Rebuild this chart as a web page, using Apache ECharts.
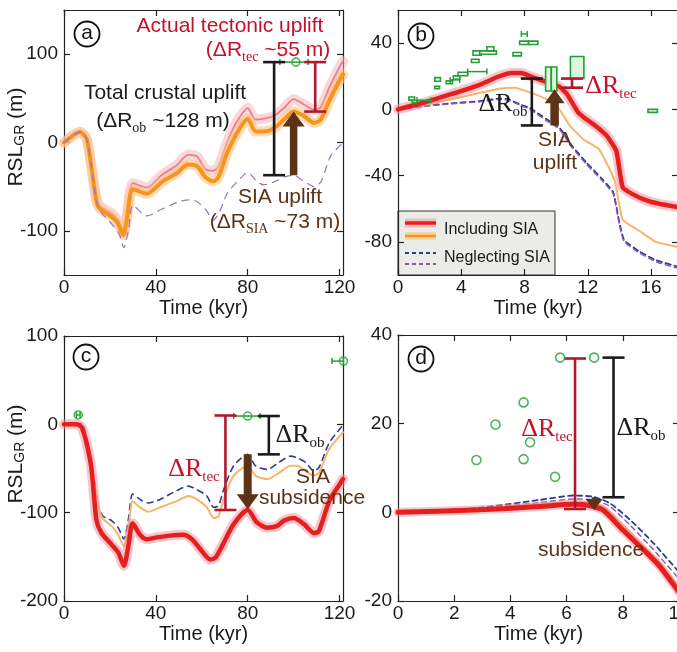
<!DOCTYPE html>
<html>
<head>
<meta charset="utf-8">
<script src="https://cdn.jsdelivr.net/npm/echarts@6/dist/echarts.min.js"></script>
<style>
html, body { margin: 0; padding: 0; background: #fff; }
#main { width: 677px; height: 652px; }
</style>
</head>
<body>
<div id="main"></div>
<script>
// ---- data ----
// panel (a)
var aTime   = [0, 7, 10, 14, 15.6, 20.7, 23.6, 25.8, 27.3, 30, 36, 43, 49, 54, 58, 61.5, 65, 67.3, 71, 75.4, 80, 83.4, 87, 91.4, 95.8, 100, 104.5, 109, 111.8, 115.5, 120.5, 121.5];
var aPink   = [0, 12, 3, -62, -72, -80, -88, -101, -84, -46, -51, -36, -26, -14, -16, -30, -32, -27, 0, 24, 39, 26, 27, 30, 39, 49, 43, 37, 40, 62, 88, 92];
var aOrange = [0, 12, 3, -65, -75, -84, -92, -105, -88, -53, -58, -44, -35, -25, -27, -39, -44, -39, -12, 11, 27, 12.5, 12.5, 16, 26, 35, 30, 22, 26, 47, 73, 77];
var aTimeN  = [0, 7, 10, 14, 15.6, 20, 24, 26, 28, 30, 36, 43, 50, 55, 58, 62, 65, 68, 71, 76, 80, 84, 87, 92, 96, 100, 104, 109, 112, 116, 121.5];
var aPurple = [0, 12, 3, -65, -77, -90, -103, -119, -100, -71, -83, -75, -67, -65, -67, -77, -88, -77, -58, -43, -34, -44, -48, -44, -39, -37, -43, -50, -44, -16, 0];

// panel (b)
var bTime   = [0, 1.6, 3.3, 5.2, 6.4, 7.2, 7.8, 8.5, 9.4, 10.2, 10.7, 11.4, 11.9, 12.5, 13.2, 13.8, 14.2, 14.8, 15.7, 16.5, 17.7];
var bRed    = [0, 4, 9, 15, 20, 22, 22, 19.5, 16.5, 13.7, 9, -2, -6, -10, -16, -25, -47, -51, -55, -57, -59];
var bTimeO  = [0, 1.6, 3.3, 5.2, 6.4, 7.3, 8.1, 9.4, 10.2, 10.8, 11.7, 12.7, 13.7, 14.2, 15.3, 16.3, 17.7];
var bOrange = [0, 3, 6, 10, 12.5, 13, 11, 6, 0, -9, -18, -24, -43, -66.5, -73.6, -80, -83];
var bTimeN  = [0, 1.6, 3.3, 5.2, 6.4, 7, 7.7, 8.3, 9.4, 10.2, 11, 11.9, 12.9, 13.6, 14, 14.3, 15.3, 16.3, 17.7];
var bBlue   = [0, 2, 3.6, 5, 6.5, 6, 3, 1, -6, -11, -22, -32, -42, -50, -68.5, -79, -86, -91, -95];
var bPurple = [0, 1.8, 3.3, 4.6, 6, 5.5, 2.5, 0.3, -7, -12, -23, -33, -43, -51, -70, -80, -87, -92, -96];
// sea-level boxes: [t0, t1, rsl0, rsl1, filled]
var bBoxes = [
  [0.69, 1.05, 5.6, 7.5, 0], [0.9, 1.2, 4, 5.4, 0], [2.32, 2.68, 17, 19.2, 0], [2.32, 2.63, 12.5, 14, 0],
  [3.05, 3.45, 15.5, 17.2, 0], [3.5, 3.9, 18.2, 20.2, 0], [3.8, 4.4, 20.3, 22.4, 0], [4.64, 5.12, 28.3, 30.3, 0],
  [4.74, 5.27, 32.7, 35.3, 0], [5.16, 6.22, 33.3, 35.3, 0], [5.62, 6.06, 35.3, 37.8, 0], [7.27, 7.8, 32.3, 34.3, 0],
  [7.69, 8.25, 39.2, 41.2, 0], [8.25, 8.84, 39.2, 41.2, 0], [9.33, 9.69, 11.1, 25.6, 1], [9.69, 10.04, 11.1, 25.6, 1],
  [10.9, 11.75, 18.6, 31.9, 1], [15.8, 16.4, -1.8, 0, 0]
];
// age error bars: [t0, t1, rsl]
var bBars = [[1.2, 2.07, 5.5], [3.3, 3.9, 17.8], [4.4, 5.62, 22.8], [7.8, 8.17, 45.5]];

// panel (c)
var cTime   = [0, 5.4, 7.6, 9.8, 12, 14.1, 16.3, 20, 23.6, 26.1, 28, 29.9, 33.1, 36, 40.4, 46.2, 52, 55.7, 59.3, 63.7, 65.9, 68.8, 73.9, 80, 84, 88.5, 92.9, 95.8, 100.1, 104.5, 108.9, 111, 115.5, 120.5, 121.5];
var cRed    = [0, 0, -3, -21, -51, -108, -123, -134, -145, -160, -138, -112, -125, -130, -128, -126, -125, -130, -141, -153, -151, -138, -113, -97, -111, -117, -115, -109, -106, -113, -123, -121, -87, -66, -62];
var cTimeN  = [0, 7.6, 9.8, 12, 14.9, 17, 20.7, 23.6, 26.1, 28, 29.9, 33.1, 36.7, 41.8, 49.1, 54.2, 57.9, 62.2, 65.2, 67.3, 69.5, 73.9, 80, 83.4, 88.5, 93.6, 98.7, 101.6, 105.2, 108.9, 111, 115.5, 120.5, 121.5];
var cOrange = [0, -1, -17, -47, -92, -107, -115, -125, -138, -119, -87, -94, -99, -94, -87, -81, -85, -94, -106, -104, -85, -58, -47, -58, -62, -55, -47, -47, -53, -58, -55, -28, -12, -9];
var cBlue   = [0, 1, -15, -43, -92, -104, -109, -117, -130, -108, -79, -85, -89, -85, -75, -70, -74, -81, -94, -92, -74, -47, -34, -47, -51, -43, -36, -38, -43, -53, -49, -21, -4, -1];

// panel (d)
var dTime   = [0, 2.7, 5.05, 6.24, 6.7, 7.3, 8.0, 8.86, 9.33, 10];
var dRed    = [0, 0.5, 1.3, 1.8, 1.65, 0.5, -4, -9.2, -12.3, -18];
var dOrange = [0, 0.6, 1.8, 2.2, 2.2, 1.3, -2.9, -8.5, -11.5, -17];
var dTimeN  = [0, 2.7, 5.05, 6.24, 6.96, 7.55, 8.26, 9.1, 10];
var dBlue   = [0, 0.9, 2.8, 3.8, 3.5, 2, -1.7, -7, -13.5];
var dPurple = [0, 0.7, 2.2, 3, 2.8, 1.3, -2.9, -8.5, -15];
var dObsT   = [2.79, 3.47, 4.47, 4.7, 4.47, 5.59, 5.77, 6.98];
var dObsR   = [11.8, 19.8, 24.8, 15.8, 12, 8, 34.9, 34.9];

// axes
var xRange = [[0, 121.5], [0, 17.7], [0, 121.5], [0, 10]];
var yRange = [[-150, 150], [-100, 60], [-200, 100], [-20, 40]];
var xTicks = [[0, 40, 80, 120], [0, 4, 8, 12, 16], [0, 40, 80, 120], [0, 2, 4, 6, 8, 10]];
var yTicks = [[-100, 0, 100], [-80, -40, 0, 40], [-200, -100, 0, 100], [-20, 0, 20, 40]];

// ---- styles ----
var SANS = '"Liberation Sans", Arial, Helvetica, sans-serif';
var SERIF = '"Liberation Serif", "Times New Roman", serif';
var INK = '#1a1a1a';
var RED = '#e3201f', REDBAND = 'rgba(242,140,150,0.5)';
var PINK = '#ec7f89', PINKBAND = 'rgba(246,175,182,0.5)';
var ORANGE = '#f7941d', ORBAND = 'rgba(252,196,130,0.6)', LORANGE = '#f8b468';
var BLUE = '#2c3e92', PURPLE = '#8a55b8', LPURPLE = '#9a72c8';
var GREEN = '#22a033', DRED = '#b3172d', TRED = '#c4122c', BROWN = '#5c3317';

var grids = [
  { left: 64, top: 10, width: 279, height: 265 },
  { left: 398, top: 10, width: 280, height: 265 },
  { left: 64, top: 336, width: 279, height: 265 },
  { left: 398, top: 335, width: 281, height: 266 }
];
grids.forEach(function (g) { g.outerBoundsMode = 'none'; g.containLabel = false; });

var axLine = { onZero: false, lineStyle: { color: '#222', width: 1.2 } };
var xAxis = [], yAxis = [];
for (var i = 0; i < 4; i++) {
  xAxis.push({
    type: 'value', gridIndex: i, min: xRange[i][0], max: xRange[i][1], position: 'bottom',
    name: 'Time (kyr)', nameLocation: 'middle', nameGap: 33,
    nameTextStyle: { fontFamily: SANS, fontSize: 20, color: INK, verticalAlign: 'middle' },
    axisLine: axLine,
    axisTick: { inside: true, length: 6, customValues: xTicks[i], lineStyle: { color: '#222', width: 1.2 } },
    axisLabel: { customValues: xTicks[i], margin: 3, fontFamily: SANS, fontSize: 19, color: INK },
    splitLine: { show: false }
  });
  yAxis.push({
    type: 'value', gridIndex: i, min: yRange[i][0], max: yRange[i][1], position: 'left',
    axisLine: axLine,
    axisTick: { inside: true, length: 6, customValues: yTicks[i], lineStyle: { color: '#222', width: 1.2 } },
    axisLabel: { customValues: yTicks[i], margin: 6, fontFamily: SANS, fontSize: 19, color: INK },
    splitLine: { show: false }
  });
}
for (var j = 0; j < 4; j++) {
  xAxis.push({
    type: 'value', gridIndex: j, min: xRange[j][0], max: xRange[j][1], position: 'top',
    axisLine: axLine,
    axisTick: { inside: true, length: 6, customValues: xTicks[j], lineStyle: { color: '#222', width: 1.2 } },
    axisLabel: { show: false }, splitLine: { show: false }
  });
  yAxis.push({
    type: 'value', gridIndex: j, min: yRange[j][0], max: yRange[j][1], position: 'right',
    axisLine: axLine,
    axisTick: { inside: true, length: 6, customValues: yTicks[j], lineStyle: { color: '#222', width: 1.2 } },
    axisLabel: { show: false }, splitLine: { show: false }
  });
}

function pts(xs, ys) {
  return xs.map(function (x, k) { return [x, ys[k]]; });
}

function line(ax, data, color, width, dash, smooth) {
  return {
    type: 'line', xAxisIndex: ax, yAxisIndex: ax, data: data, symbol: 'none',
    smooth: smooth === undefined ? 0.25 : smooth, silent: true,
    lineStyle: { color: color, width: width, type: dash || 'solid', cap: 'round', join: 'round' }
  };
}

function ibeam(ax, data, color) {
  return {
    type: 'custom', xAxisIndex: ax, yAxisIndex: ax, data: data, z: 5, silent: true,
    renderItem: function (p, api) {
      var a = api.coord([api.value(0), api.value(1)]);
      var b = api.coord([api.value(0), api.value(2)]);
      var w = 11, st = { stroke: color, lineWidth: 2.6 };
      return {
        type: 'group', children: [
          { type: 'line', shape: { x1: a[0], y1: a[1], x2: b[0], y2: b[1] }, style: st },
          { type: 'line', shape: { x1: a[0] - w, y1: a[1], x2: a[0] + w, y2: a[1] }, style: st },
          { type: 'line', shape: { x1: b[0] - w, y1: b[1], x2: b[0] + w, y2: b[1] }, style: st }
        ]
      };
    }
  };
}

function arrow(ax, data, sw, hw, hl) {
  return {
    type: 'custom', xAxisIndex: ax, yAxisIndex: ax, data: data, z: 6, silent: true,
    renderItem: function (p, api) {
      var s = api.coord([api.value(0), api.value(1)]);
      var t = api.coord([api.value(0), api.value(2)]);
      var dir = t[1] > s[1] ? 1 : -1;
      var base = t[1] - dir * hl, x = s[0];
      return {
        type: 'polygon',
        shape: { points: [[x - sw / 2, s[1]], [x - sw / 2, base], [x - hw / 2, base], [x, t[1]],
                          [x + hw / 2, base], [x + sw / 2, base], [x + sw / 2, s[1]]] },
        style: { fill: BROWN }
      };
    }
  };
}

function hbars(ax, data) {
  return {
    type: 'custom', xAxisIndex: ax, yAxisIndex: ax, data: data, z: 4, silent: true, clip: false,
    renderItem: function (p, api) {
      var a = api.coord([api.value(0), api.value(2)]);
      var b = api.coord([api.value(1), api.value(2)]);
      var st = { stroke: GREEN, lineWidth: 1.5 };
      return {
        type: 'group', children: [
          { type: 'line', shape: { x1: a[0], y1: a[1], x2: b[0], y2: b[1] }, style: st },
          { type: 'line', shape: { x1: a[0], y1: a[1] - 3, x2: a[0], y2: a[1] + 3 }, style: st },
          { type: 'line', shape: { x1: b[0], y1: b[1] - 3, x2: b[0], y2: b[1] + 3 }, style: st }
        ]
      };
    }
  };
}

function boxes(ax, data) {
  return {
    type: 'custom', xAxisIndex: ax, yAxisIndex: ax, data: data, z: 4, silent: true,
    renderItem: function (p, api) {
      var a = api.coord([api.value(0), api.value(3)]);
      var b = api.coord([api.value(1), api.value(2)]);
      return {
        type: 'rect',
        shape: { x: a[0], y: a[1], width: b[0] - a[0], height: b[1] - a[1] },
        style: { fill: api.value(4) ? '#dcf6e2' : 'rgba(255,255,255,0.6)', stroke: GREEN, lineWidth: 1.6 }
      };
    }
  };
}

function circles(ax, data, size) {
  return {
    type: 'scatter', xAxisIndex: ax, yAxisIndex: ax, data: data, symbol: 'circle', symbolSize: size,
    z: 7, silent: true, clip: false,
    itemStyle: { color: 'rgba(255,255,255,0)', borderColor: GREEN, borderWidth: 1.6 }
  };
}

var series = [
  // (a)
  line(0, pts(aTime, aPink), PINKBAND, 10),
  line(0, pts(aTime, aPink), PINK, 1.8),
  line(0, pts(aTime, aOrange), ORBAND, 10),
  line(0, pts(aTime, aOrange), ORANGE, 4),
  line(0, pts(aTimeN, aPurple), LPURPLE, 1.2, [7, 6]),
  hbars(0, [[94, 106.3, 91]]),
  ibeam(0, [[91.5, 91, -37]], '#1a1a1a'),
  ibeam(0, [[109.4, 91, 35]], DRED),
  arrow(0, [[100, -37, 35]], 7.5, 22, 15),
  circles(0, [[101, 91]], 8),
  // (b)
  line(1, pts(bTimeN, bBlue), BLUE, 1.8, [5, 4], 0.15),
  line(1, pts(bTimeN, bPurple), PURPLE, 1.4, [5, 4], 0.15),
  line(1, pts(bTimeO, bOrange), LORANGE, 2, null, 0.15),
  line(1, pts(bTime, bRed), REDBAND, 10, null, 0.15),
  line(1, pts(bTime, bRed), RED, 4.5, null, 0.15),
  boxes(1, bBoxes),
  hbars(1, bBars),
  ibeam(1, [[8.46, 18.6, -9.7]], '#1a1a1a'),
  ibeam(1, [[11.0, 18.6, 13.1]], DRED),
  arrow(1, [[9.9, -9.7, 12.1]], 8.5, 20, 14),
  // (c)
  line(2, pts(cTimeN, cBlue), BLUE, 1.6, [6, 5]),
  line(2, pts(cTimeN, cOrange), LORANGE, 2),
  line(2, pts(cTime, cRed), REDBAND, 10),
  line(2, pts(cTime, cRed), RED, 4.5),
  hbars(2, [[73.9, 85.4, 9.4], [5.4, 7.0, 10.6], [116.7, 121.7, 71.6]]),
  ibeam(2, [[70.3, 10, -97]], DRED),
  ibeam(2, [[89.2, 9.4, -34]], '#1a1a1a'),
  arrow(2, [[80, -34, -96]], 8, 22, 15),
  circles(2, [[80, 9.4], [6.2, 10.6], [121.7, 71.6]], 8),
  // (d)
  line(3, pts(dTimeN, dBlue), BLUE, 1.8, [5, 4], 0.2),
  line(3, pts(dTimeN, dPurple), PURPLE, 1.4, [5, 4], 0.2),
  line(3, pts(dTime, dOrange), LORANGE, 2.5, null, 0.2),
  line(3, pts(dTime, dRed), REDBAND, 9, null, 0.2),
  line(3, pts(dTime, dRed), RED, 5, null, 0.2),
  ibeam(3, [[6.3, 34.7, 0.75]], DRED),
  ibeam(3, [[7.67, 34.9, 3.4]], '#1a1a1a'),
  arrow(3, [[6.98, 3.4, 0.5]], 5, 17, 11),
  circles(3, pts(dObsT, dObsR), 9)
];

// ---- text, panel letters, legend ----
function txt(x, y, text, color, size) {
  return { type: 'text', x: x, y: y, z: 100, silent: true,
    style: { text: text, fill: color, fontFamily: SANS, fontSize: size || 21, align: 'center', verticalAlign: 'middle' } };
}
function paren(x, y, pre, sub, post, color) {
  return { type: 'text', x: x, y: y, z: 100, silent: true,
    style: { text: '{m|' + pre + '}{s|' + sub + '}{m|' + post + '}', align: 'center', verticalAlign: 'middle',
      rich: {
        m: { fontFamily: SANS, fontSize: 21, lineHeight: 24, fill: color },
        s: { fontFamily: SERIF, fontSize: 14, lineHeight: 14, padding: [15, 0, 0, 0], fill: color }
      } } };
}
function dR(x, y, sub, color) {
  return { type: 'text', x: x, y: y, z: 100, silent: true,
    style: { text: '{m|ΔR}{s|' + sub + '}', align: 'center', verticalAlign: 'middle',
      rich: {
        m: { fontFamily: SERIF, fontSize: 26, lineHeight: 28, fill: color },
        s: { fontFamily: SERIF, fontSize: 15, lineHeight: 15, padding: [17, 0, 0, 0], fill: color }
      } } };
}
function letter(x, y, ch) {
  return { type: 'group', z: 100, silent: true, children: [
    { type: 'circle', shape: { cx: x, cy: y, r: 12.5 }, style: { fill: '#fff', stroke: '#111', lineWidth: 1.8 } },
    { type: 'text', x: x, y: y - 1, style: { text: ch, fill: '#111', fontFamily: SANS, fontSize: 21, align: 'center', verticalAlign: 'middle' } }
  ] };
}
function yName(x, y) {
  return { type: 'text', x: x, y: y, rotation: Math.PI / 2, z: 100, silent: true,
    style: { text: '{m|RSL}{s|GR}{m| (m)}', align: 'center', verticalAlign: 'middle',
      rich: {
        m: { fontFamily: SANS, fontSize: 21, lineHeight: 24, fill: INK },
        s: { fontFamily: SANS, fontSize: 14, lineHeight: 14, padding: [8, 0, 0, 0], fill: INK }
      } } };
}

var graphics = [
  yName(16, 137), yName(16, 454),
  letter(87, 34, 'a'), letter(421, 36, 'b'), letter(86, 357, 'c'), letter(421, 359, 'd'),
  // (a)
  txt(230, 26, 'Actual tectonic uplift', TRED),
  paren(268, 50, '(ΔR', 'tec', ' ~55 m)', TRED),
  txt(165, 93, 'Total crustal uplift', INK),
  paren(163, 121, '(ΔR', 'ob', ' ~128 m)', INK),
  txt(280, 197, 'SIA uplift', BROWN),
  paren(275, 222, '(ΔR', 'SIA', ' ~73 m)', BROWN),
  // (b)
  dR(503, 104, 'ob', INK),
  dR(611, 86, 'tec', TRED),
  txt(555, 140, 'SIA', BROWN), txt(555, 163, 'uplift', BROWN),
  // (c)
  dR(194, 469, 'tec', TRED),
  dR(300, 435, 'ob', INK),
  txt(313, 477, 'SIA', BROWN), txt(312, 498, 'subsidence', BROWN),
  // (d)
  dR(547, 429, 'tec', TRED),
  dR(641, 428, 'ob', INK),
  txt(588, 530, 'SIA', BROWN), txt(591, 550, 'subsidence', BROWN),
  // legend
  { type: 'group', z: 100, silent: true, children: [
    { type: 'rect', shape: { x: 398, y: 211, width: 157, height: 64 }, style: { fill: '#ebebe8', stroke: '#333', lineWidth: 1 } },
    { type: 'line', shape: { x1: 405, y1: 223, x2: 436, y2: 223 }, style: { stroke: REDBAND, lineWidth: 9 } },
    { type: 'line', shape: { x1: 405, y1: 223, x2: 436, y2: 223 }, style: { stroke: RED, lineWidth: 3.5 } },
    { type: 'line', shape: { x1: 405, y1: 236, x2: 436, y2: 236 }, style: { stroke: ORBAND, lineWidth: 8 } },
    { type: 'line', shape: { x1: 405, y1: 236, x2: 436, y2: 236 }, style: { stroke: ORANGE, lineWidth: 2.5 } },
    { type: 'line', shape: { x1: 405, y1: 253, x2: 436, y2: 253 }, style: { stroke: BLUE, lineWidth: 2, lineDash: [4, 3] } },
    { type: 'line', shape: { x1: 405, y1: 264, x2: 436, y2: 264 }, style: { stroke: PURPLE, lineWidth: 2, lineDash: [4, 3] } },
    { type: 'text', x: 444, y: 230, style: { text: 'Including SIA', fill: INK, fontFamily: SANS, fontSize: 16, align: 'left', verticalAlign: 'middle' } },
    { type: 'text', x: 444, y: 258, style: { text: 'Neglecting SIA', fill: INK, fontFamily: SANS, fontSize: 16, align: 'left', verticalAlign: 'middle' } }
  ] }
];

var chart = echarts.init(document.getElementById('main'), null, { renderer: 'canvas' });
chart.setOption({
  animation: false,
  backgroundColor: '#fff',
  grid: grids,
  xAxis: xAxis,
  yAxis: yAxis,
  series: series,
  graphic: graphics
});
</script>
</body>
</html>
